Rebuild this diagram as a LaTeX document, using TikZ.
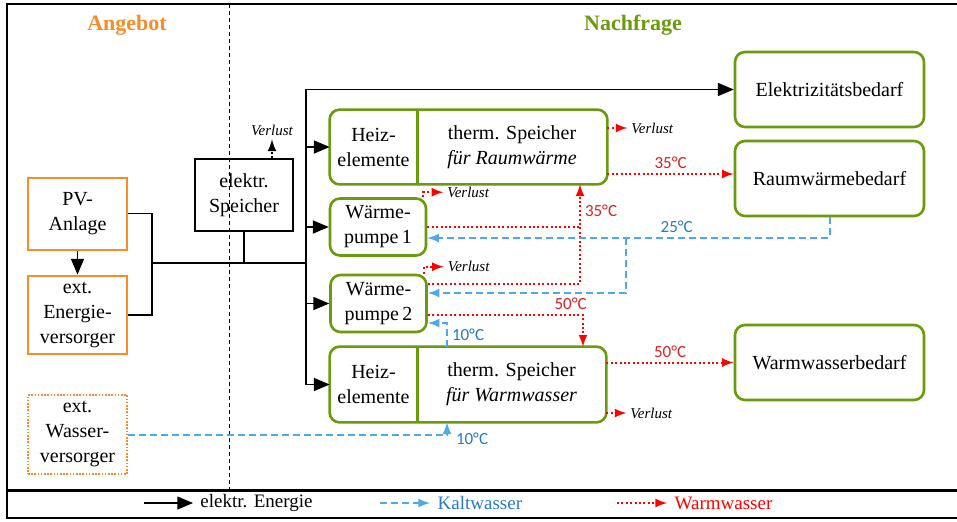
\documentclass[tikz,border=0pt]{standalone}
\usepackage{fontspec}
\setmainfont{Liberation Serif}
\newfontfamily\tempfont{Carlito}
\usetikzlibrary{arrows}

\definecolor{angebot}{RGB}{247,140,40}
\definecolor{nachfrage}{RGB}{106,154,14}
\definecolor{kalt}{RGB}{80,168,228}
\definecolor{kalttext}{RGB}{40,122,196}
\definecolor{warm}{RGB}{255,0,0}
\definecolor{warmtext}{RGB}{218,32,38}

\tikzstyle{supply} = [rectangle, minimum width=49.5pt, minimum height=36pt, align=center, draw=angebot, line width=1pt]
\tikzstyle{supplydot} = [rectangle, minimum width=49.5pt, minimum height=37.5pt, align=center, draw=angebot, line width=0.6pt, dash pattern=on 0.8pt off 0.8pt]
\tikzstyle{storage} = [rectangle, minimum width=49pt, minimum height=36pt, align=center, draw=black, line width=0.6pt]
\tikzstyle{demand} = [rectangle, rounded corners=5pt, minimum width=94.5pt, minimum height=37.5pt, align=center, draw=nachfrage, line width=1.3pt]
\tikzstyle{pump} = [rectangle, rounded corners=5pt, minimum width=48pt, minimum height=28.5pt, align=center, draw=nachfrage, line width=1.3pt]
\tikzstyle{part} = [rectangle, minimum height=37pt, align=center]
\tikzstyle{tank} = [draw=nachfrage, line width=1.3pt, rounded corners=5pt]
\tikzstyle{arrow} = [thick,->,>=triangle 45]
\tikzstyle{line} = [thick]
\tikzstyle{kaltarrow} = [->,>=latex, draw=kalt, line width=1pt, dash pattern=on 3.5pt off 2pt]
\tikzstyle{warmarrow} = [->,>=latex, draw=warm, line width=1pt, dash pattern=on 1pt off 1.2pt]
\tikzstyle{warmline} = [draw=warm, line width=1pt, dash pattern=on 1pt off 1.2pt]
\tikzstyle{verlust} = [font=\fontsize{7.5}{9}\selectfont\itshape, inner sep=1.5pt]
\tikzstyle{kaltlabel} = [font=\tempfont\fontsize{8.5}{10}\selectfont, text=kalttext, inner sep=2pt]
\tikzstyle{warmlabel} = [font=\tempfont\fontsize{8.5}{10}\selectfont, text=warmtext, inner sep=2pt]

\begin{document}
\begin{tikzpicture}[x=0.5pt, y=-0.5pt, font=\fontsize{10}{12.5}\selectfont]
\useasboundingbox (0,0) rectangle (957,521);

% Rahmen
\draw[line width=1.2pt] (7,4) rectangle (970,518);
\draw[line width=1.5pt] (7,490) -- (970,490);
\draw[line width=0.5pt, dash pattern=on 2pt off 1.5pt] (229,4) -- (229,490);

\node[font=\fontsize{11}{13}\selectfont\bfseries, text=angebot] (angebot) at (127,25) {Angebot};
\node[font=\fontsize{11}{13}\selectfont\bfseries, text=nachfrage] (nachfrage) at (633,25) {Nachfrage};

% Nodes
\node (pv) [supply] at (77.5,213.5) {PV-\\Anlage};
\node (netz) [supply, minimum height=37pt] at (77.5,315) {ext.\\Energie-\\versorger};
\node (wasser) [supplydot] at (77.5,434.5) {ext.\\Wasser-\\versorger};
\node (speicher) [storage] at (244,195) {elektr.\\Speicher};

\node (heiz1) [part, minimum width=43.5pt] at (373.5,147) {Heiz-\\elemente};
\node (srw) [part, minimum width=95pt] at (512,147) {therm. Speicher\\\textit{für Raumwärme}};
\draw[tank] (heiz1.north west) rectangle (srw.south east);
\draw[draw=nachfrage, line width=1.1pt] (heiz1.north east) -- (heiz1.south east);

\node (wp1) [pump] at (378,227) {Wärme-\\pumpe\,1};
\node (wp2) [pump] at (378.5,303.5) {Wärme-\\pumpe\,2};

\node (heiz2) [part, minimum width=43.5pt, minimum height=37.5pt] at (373.5,384.5) {Heiz-\\elemente};
\node (sww) [part, minimum width=94.5pt, minimum height=37.5pt] at (511.5,384.5) {therm. Speicher\\\textit{für Warmwasser}};
\draw[tank] (heiz2.north west) rectangle (sww.south east);
\draw[draw=nachfrage, line width=1.1pt] (heiz2.north east) -- (heiz2.south east);

\node (elbed) [demand] at (829.5,89.5) {Elektrizitätsbedarf};
\node (rwbed) [demand] at (829.5,178.5) {Raumwärmebedarf};
\node (wwbed) [demand] at (829.5,362.5) {Warmwasserbedarf};

\coordinate (busl) at (152,263);
\coordinate (bus) at (306,263);
\coordinate (k25) at (626,238);

% Arrows: elektr. Energie
\draw [arrow] (pv.south) -- (netz.north);
\draw [line] (pv.east) -| (busl);
\draw [line] (netz.east) -| (busl);
\draw [line] (busl) -- (bus);
\draw [line] (speicher.south) -- (speicher.south |- bus);
\draw [arrow] (bus) |- (elbed.west);
\draw [arrow] (bus) |- (heiz2.west);
\draw [arrow] (bus |- heiz1.west) -- (heiz1.west);
\draw [arrow] (bus |- wp1.west) -- (wp1.west);
\draw [arrow] (bus |- wp2.west) -- (wp2.west);
\draw [->, >=latex, line width=1pt, dash pattern=on 1pt off 1.2pt] ([xshift=14pt]speicher.north) -- ++(0,-19) node[above, verlust]{Verlust};

% Arrows: Warmwasser
\draw [warmarrow] ([yshift=-13.5pt]srw.east) -- ([yshift=-13.5pt]srw.east -| rwbed.west) node[midway, above, warmlabel]{35°C};
\draw [warmarrow] ([yshift=9.5pt]srw.east) -- ++(20,0) node[right, verlust]{Verlust};
\draw [warmline] (wp1.east) -- (wp1.east -| 580,0);
\draw [warmarrow] ([yshift=9.75pt]wp2.east) -| ([xshift=34pt]srw.south) node[pos=0.87, right, warmlabel]{35°C};
\draw [warmarrow] ([yshift=-5.75pt]wp2.east) -| ([xshift=35.75pt]sww.north) node[pos=0.46, above, warmlabel]{50°C};
\draw [warmarrow] (sww.east |- wwbed.west) -- (wwbed.west) node[midway, above, warmlabel]{50°C};
\draw [warmarrow] ([yshift=-14.25pt]sww.east) -- ++(20,0) node[right, verlust]{Verlust};
\draw [warmarrow] ([xshift=-2pt]wp1.north east) -- ++(0,-5) -- ++(20,0) node[right, verlust]{Verlust};
\draw [warmarrow] ([xshift=-2pt]wp2.north east) -- ++(0,-7) -- ++(20,0) node[right, verlust]{Verlust};

% Arrows: Kaltwasser
\draw [kaltarrow] (rwbed.south) |- ([yshift=-5.5pt]wp1.east) node[pos=0.69, above, kaltlabel]{25°C};
\draw [kaltarrow] (k25) |- ([yshift=5.25pt]wp2.east);
\draw [kaltarrow] ([xshift=-32.25pt]sww.north) |- ([yshift=-9.75pt]wp2.east) node[pos=0.25, right, kaltlabel]{10°C};
\draw [kaltarrow] (wasser.east) -| ([xshift=-32.25pt]sww.south) node[pos=0.5, right, xshift=2pt, yshift=-2pt, kaltlabel]{10°C};

% Legende
\coordinate (le1) at (144,503);
\coordinate (le2) at (193,503);
\coordinate (lk1) at (380,503);
\coordinate (lk2) at (430,503);
\coordinate (lw1) at (617,503);
\coordinate (lw2) at (667,503);
\draw [arrow] (le1) -- (le2) node[right, font=\fontsize{9.5}{11}\selectfont]{elektr. Energie};
\draw [kaltarrow] (lk1) -- (lk2) node[right, font=\fontsize{9.5}{11}\selectfont, text=kalttext]{Kaltwasser};
\draw [warmarrow] (lw1) -- (lw2) node[right, font=\fontsize{9.5}{11}\selectfont, text=warm]{Warmwasser};

\end{tikzpicture}
\end{document}
